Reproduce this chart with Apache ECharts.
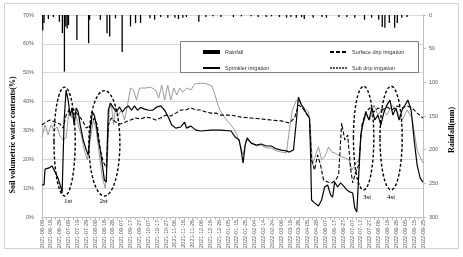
<!DOCTYPE html>
<html>
<head>
<meta charset="utf-8">
<script src="https://cdn.jsdelivr.net/npm/echarts@6/dist/echarts.min.js"></script>
<style>
  html, body { margin: 0; padding: 0; background: #fff; }
  #chart { width: 463px; height: 257px; }
</style>
</head>
<body>
<div id="chart"></div>
<script>
// tick labels of the date axis (one slot per label, x data below is in slots)
const xLabels = [
  "2021-06-09", "2021-06-19", "2021-06-29", "2021-07-09", "2021-07-19", "2021-07-29",
  "2021-08-08", "2021-08-18", "2021-08-28", "2021-09-07", "2021-09-17", "2021-09-27",
  "2021-10-07", "2021-10-17", "2021-10-27", "2021-11-06", "2021-11-16", "2021-11-26",
  "2021-12-06", "2021-12-16", "2021-12-26", "2022-01-05", "2022-01-15", "2022-01-25",
  "2022-02-04", "2022-02-14", "2022-02-24", "2022-03-06", "2022-03-16", "2022-03-26",
  "2022-04-05", "2022-04-28", "2022-06-07", "2022-06-17", "2022-06-27", "2022-07-07",
  "2022-07-17", "2022-07-27", "2022-08-06", "2022-08-16", "2022-08-26", "2022-09-05",
  "2022-09-15", "2022-09-25"
];

// rainfall, mm  [slot, mm]
const rainfall = [
  [0.08, 23], [0.23, 12], [0.72, 6], [1.28, 3], [1.96, 10], [2.3, 27], [2.53, 84], [2.69, 17],
  [2.84, 20], [2.99, 15], [3.94, 37], [5.26, 42], [5.37, 7], [6.58, 7], [7.34, 27], [7.64, 32],
  [8.29, 5], [9.05, 55], [9.99, 17], [10.56, 12], [11.12, 12], [12.18, 5], [12.71, 7], [13.4, 3],
  [14.2, 4], [15.0, 4], [15.4, 6], [15.9, 4], [16.3, 3], [17.7, 10], [18.5, 3], [19.3, 2],
  [20.2, 3], [21.6, 3], [22.5, 2], [23.6, 2], [24.4, 3], [25.3, 3], [25.9, 2], [26.8, 3],
  [27.6, 4], [28.1, 3], [28.7, 4], [29.3, 3], [29.6, 6], [30.6, 4], [31.6, 3], [32.1, 4],
  [33.5, 3], [34.4, 3], [35.3, 4], [36.4, 7], [37.2, 4], [38.0, 7], [38.4, 18], [38.7, 19],
  [39.2, 12], [39.8, 19], [40.1, 12], [40.6, 4], [41.2, 3]
];

// soil water content, %  [slot, %]
const sprinkler = [
  [0, 11.1], [0.23, 11.1], [0.34, 16.6], [0.8, 17], [1.13, 17.7], [1.48, 15.6], [1.8, 13.5],
  [2.16, 10], [2.27, 8.3], [2.5, 33.6], [2.72, 44], [2.95, 40.5], [3.18, 35], [3.4, 37.8],
  [3.63, 31.9], [3.86, 37.8], [4.09, 36.4], [4.31, 31.9], [4.65, 26.7], [5.0, 23.2], [5.22, 21.5],
  [5.45, 30], [5.68, 36.4], [5.9, 35.3], [6.13, 31.9], [6.36, 26.7], [6.58, 23.2], [6.81, 18],
  [7.04, 12.8], [7.26, 12.1], [7.38, 26.7], [7.49, 37.1], [7.72, 39.5], [8.06, 37.8], [8.4, 36.4],
  [8.74, 38.1], [9.08, 36.4], [9.42, 37.8], [9.76, 38.5], [10.1, 37], [10.44, 38.5], [10.78, 37],
  [11.12, 38], [11.58, 37.4], [12.03, 37], [12.49, 37], [12.94, 38.1], [13.39, 38.5], [13.85, 37],
  [14.3, 34.3], [14.64, 31.9], [15.1, 30.8], [15.66, 31.2], [16.1, 32.9], [16.3, 30.8], [16.8, 31.5],
  [17.37, 30.1], [17.93, 29.8], [19.07, 30.1], [20.2, 30.1], [21.34, 29.8], [21.8, 27.7],
  [22.25, 26.7], [22.47, 23.2], [22.7, 18.7], [22.93, 24.9], [23.16, 27.4], [23.6, 25.6],
  [24.18, 24.9], [24.74, 25.3], [25.3, 24.6], [25.88, 24.6], [26.45, 23.6], [27.0, 23.2],
  [27.58, 22.9], [27.92, 22.5], [28.38, 23.2], [28.72, 33.6], [28.94, 41.6], [29.28, 38.8],
  [29.63, 37.1], [29.97, 35.3], [30.19, 34.3], [30.3, 23.2], [30.42, 5.9], [30.76, 4.9], [31.2, 3.8],
  [31.56, 5.9], [31.9, 10.4], [32.24, 11.1], [32.58, 7.6], [32.8, 6.9], [33.03, 12.1], [33.37, 10.4],
  [33.7, 11.8], [34.05, 10.7], [34.4, 9.4], [34.73, 8.7], [35.07, 8.3], [35.3, 3.1], [35.53, 1.7],
  [35.75, 14.6], [35.98, 28.4], [36.2, 31.9], [36.55, 36.4], [36.9, 33.6], [37.23, 37.8],
  [37.57, 33.6], [37.91, 35.3], [38.25, 31.9], [38.6, 36.4], [38.93, 38.8], [39.27, 40.5],
  [39.6, 35.3], [39.95, 37.8], [40.3, 33.6], [40.64, 37.1], [40.98, 38.8], [41.3, 40.5],
  [41.66, 37.1], [42.0, 26.7], [42.34, 18], [42.68, 13.5], [43.0, 12.1]
];

const surfaceDrip = [
  [0, 31.9], [0.45, 32.9], [0.91, 33.6], [1.48, 32.9], [2.04, 32.2], [2.38, 30.8], [2.72, 35.3],
  [3.18, 37.8], [3.63, 37.1], [4.09, 35.3], [4.54, 33.6], [5.0, 30.8], [5.45, 31.9], [5.9, 34.3],
  [6.24, 31.9], [6.58, 23.2], [6.92, 19.1], [7.26, 17], [7.49, 31.9], [7.83, 34.3], [8.29, 32.9],
  [8.85, 32.2], [9.42, 32.9], [9.99, 33.6], [10.56, 34.3], [11.12, 34], [11.69, 34.6], [12.26, 34.3],
  [12.83, 33.6], [13.39, 34.3], [13.96, 35.3], [14.53, 35], [15.1, 36], [15.66, 37.1], [16.23, 37.1],
  [16.8, 37.8], [17.37, 37.1], [17.93, 37.1], [18.5, 36.4], [19.07, 36], [19.64, 36], [20.2, 35.3],
  [21.34, 35.3], [22.47, 34.6], [23.6, 34.3], [24.74, 34], [25.88, 33.6], [27.0, 33.3],
  [27.92, 32.6], [28.5, 34.3], [28.94, 38.8], [29.4, 37.8], [29.85, 35.7], [30.19, 34.3],
  [30.42, 19.8], [30.76, 16.3], [31.1, 21.5], [31.44, 18], [31.78, 12.8], [32.24, 12.1],
  [32.69, 11.8], [33.14, 12.8], [33.48, 14.6], [33.82, 32.6], [34.17, 26.7], [34.5, 28.4],
  [34.85, 16.3], [35.07, 11.8], [35.41, 15.6], [35.75, 18], [36.1, 31.9], [36.55, 36.4], [37.0, 37.8],
  [37.46, 36.4], [37.91, 37.8], [38.37, 37.1], [38.93, 38.1], [39.5, 37.1], [40.07, 38.5],
  [40.64, 37.8], [41.2, 38.5], [41.77, 37.8], [42.34, 36], [43.0, 34.3]
];

const subDrip = [
  [0, 27.7], [0.34, 31.9], [0.68, 28.4], [1.02, 31.9], [1.36, 30.1], [1.7, 31.2], [2.04, 28.1],
  [2.38, 26.7], [2.72, 27.4], [3.06, 37.1], [3.4, 34.3], [3.75, 36.4], [4.09, 31.9], [4.43, 28.4],
  [4.77, 23.2], [5.11, 19.8], [5.45, 26.7], [5.79, 33.6], [6.13, 30.1], [6.47, 21.5], [6.81, 13.5],
  [7.15, 10], [7.38, 19.8], [7.6, 37.1], [7.83, 39.2], [8.06, 31.9], [8.29, 37.8], [8.63, 35.3],
  [8.97, 37.1], [9.31, 33.6], [9.65, 38.8], [9.99, 44.7], [10.33, 44], [10.67, 40.5], [11.01, 44.7],
  [11.69, 44.7], [12.26, 45], [12.83, 44], [13.17, 41.2], [13.51, 45.7], [13.85, 40.5], [14.19, 45.7],
  [14.53, 40.5], [14.87, 44.7], [15.21, 42.3], [15.55, 44.7], [15.89, 43.3], [16.35, 44.7],
  [16.8, 44], [17.25, 46.1], [17.93, 46.4], [18.62, 46.1], [19.18, 45.4], [19.52, 42.3],
  [19.86, 38.8], [20.2, 36.4], [20.66, 34.3], [21.11, 32.6], [21.57, 30.8], [22.02, 28.4],
  [22.47, 23.9], [22.7, 21.5], [23.04, 26.7], [23.6, 26], [24.18, 24.6], [24.74, 24.9], [25.3, 23.9],
  [25.88, 23.9], [26.45, 22.9], [27.0, 22.5], [27.58, 22.2], [27.92, 30.1], [28.26, 37.1],
  [28.72, 40.5], [29.17, 39.5], [29.63, 37.8], [30.08, 36.4], [30.3, 30.1], [30.53, 18],
  [30.87, 21.5], [31.21, 24.3], [31.56, 19.8], [31.9, 20.8], [32.35, 24.3], [32.69, 22.5],
  [33.03, 22.2], [33.48, 21.5], [33.82, 20.8], [34.28, 20.4], [34.62, 19.8], [34.96, 16.3],
  [35.3, 18], [35.75, 19.8], [36.1, 31.2], [36.55, 35.3], [37.0, 33.6], [37.46, 38.8], [37.91, 35.3],
  [38.37, 37.8], [38.93, 35.3], [39.5, 38.8], [40.07, 36.4], [40.64, 33.6], [41.2, 37.1],
  [41.77, 34.3], [42.34, 23.2], [42.68, 20.8], [43.0, 18.7]
];

// dashed rings marking the irrigation events (data units: slot / %)
const rings = [
  { label: "1st", cx: 2.55, rx: 1.2, top: 45, bottom: 7.3, lx: 2.95, ly: 5.5 },
  { label: "2st", cx: 7.04, rx: 1.75, top: 43.8, bottom: 7.3, lx: 6.95, ly: 5.5 },
  { label: "3st", cx: 36.3, rx: 1.15, top: 45.3, bottom: 9.4, lx: 36.7, ly: 6.9 },
  { label: "4st", cx: 39.4, rx: 1.25, top: 45.3, bottom: 9.4, lx: 39.4, ly: 6.9 }
];

const axisGray = "#bfbfbf";
const labelGray = "#595959";
const sans = "Liberation Sans";
const noSymbol = { opacity: 0 };

const chart = echarts.init(document.getElementById("chart"));

chart.setOption({
  animation: false,
  grid: { left: 42, right: 40, top: 15, bottom: 40 },
  legend: [
    {
      orient: "vertical", left: 197, top: 44, itemWidth: 17, itemHeight: 4, itemGap: 10,
      textStyle: { fontSize: 5.5, fontFamily: sans, color: "#333" },
      data: [
        { name: "Rainfall", icon: "rect" },
        { name: "Sprinkler irrigation", itemStyle: noSymbol }
      ]
    },
    {
      orient: "vertical", left: 324, top: 44, itemWidth: 17, itemHeight: 4, itemGap: 10,
      textStyle: { fontSize: 5.5, fontFamily: sans, color: "#333" },
      data: [
        { name: "Surface drip irrigation", itemStyle: noSymbol },
        { name: "Sub drip irrigation", itemStyle: noSymbol, lineStyle: { color: "#555", type: [2, 1] } }
      ]
    }
  ],
  xAxis: {
    type: "value", min: 0, max: xLabels.length - 1, interval: 1,
    splitLine: { show: false },
    axisLine: { lineStyle: { color: axisGray } },
    axisTick: { show: true, length: 3, lineStyle: { color: axisGray } },
    minorTick: { show: true, splitNumber: 2, length: 3, lineStyle: { color: axisGray } },
    axisLabel: {
      rotate: 90, margin: 3, fontSize: 5.5, fontFamily: sans, color: labelGray,
      formatter: v => xLabels[Math.round(v)] || ""
    }
  },
  yAxis: [
    {
      type: "value", min: 0, max: 70, interval: 10,
      axisLine: { show: true, lineStyle: { color: axisGray } },
      axisTick: { show: false },
      splitLine: { lineStyle: { color: "#d9d9d9" } },
      axisLabel: { formatter: "{value}%", margin: 8, fontSize: 5.5, fontFamily: sans, color: labelGray }
    },
    {
      type: "value", min: 0, max: 300, interval: 50, inverse: true, position: "right",
      axisLine: { show: true, lineStyle: { color: axisGray } },
      axisTick: { show: true, length: 3, lineStyle: { color: axisGray } },
      splitLine: { show: false },
      axisLabel: { margin: 6, fontSize: 5.5, fontFamily: sans, color: labelGray }
    }
  ],
  series: [
    {
      name: "Rainfall", type: "bar", yAxisIndex: 1, barWidth: 1.3,
      itemStyle: { color: "#000" }, data: rainfall
    },
    {
      name: "Sub drip irrigation", type: "line", symbol: "none",
      lineStyle: { color: "#9a9a9a", width: 1 },
      itemStyle: { color: "#9a9a9a" }, data: subDrip
    },
    {
      name: "Surface drip irrigation", type: "line", symbol: "none",
      lineStyle: { color: "#000", width: 1.1, type: [4, 2] },
      itemStyle: { color: "#000" }, data: surfaceDrip
    },
    {
      name: "Sprinkler irrigation", type: "line", symbol: "none",
      lineStyle: { color: "#000", width: 1.2 },
      itemStyle: { color: "#000" }, data: sprinkler
    }
  ]
});

function toPx(x, y) {
  return chart.convertToPixel({ xAxisIndex: 0, yAxisIndex: 0 }, [x, y]);
}

const ringShapes = rings.map(r => {
  const c = toPx(r.cx, (r.top + r.bottom) / 2);
  const t = toPx(r.cx + r.rx, r.top);
  const b = toPx(r.cx, r.bottom);
  return {
    type: "ellipse", z: 10,
    shape: { cx: c[0], cy: c[1], rx: t[0] - c[0], ry: (b[1] - t[1]) / 2 },
    style: { fill: "none", stroke: "#000", lineWidth: 1.4, lineDash: [3, 2] }
  };
});

const ringLabels = rings.map(r => {
  const p = toPx(r.lx, r.ly);
  return {
    type: "text", z: 10, x: p[0], y: p[1],
    style: { text: r.label, font: '7px "Liberation Serif"', fill: "#000", align: "center", verticalAlign: "middle" }
  };
});

chart.setOption({
  graphic: [
    { type: "rect", z: 0, shape: { x: 4.5, y: 3.5, width: 454, height: 245 },
      style: { fill: "none", stroke: "#d0d0d0", lineWidth: 1 } },
    { type: "rect", z: 3, shape: { x: 180.5, y: 41.5, width: 238, height: 31 },
      style: { fill: "#fff", stroke: "#7f7f7f", lineWidth: 1 } },
    { type: "text", z: 5, x: 13, y: 135, rotation: Math.PI / 2,
      style: { text: "Soil volumetric water contents(%)", font: 'bold 8px "Liberation Serif"',
               fill: "#000", align: "center", verticalAlign: "middle" } },
    { type: "text", z: 5, x: 452, y: 130, rotation: Math.PI / 2,
      style: { text: "Rainfall(mm)", font: 'bold 8px "Liberation Serif"',
               fill: "#000", align: "center", verticalAlign: "middle" } }
  ].concat(ringShapes, ringLabels)
});
</script>
</body>
</html>
